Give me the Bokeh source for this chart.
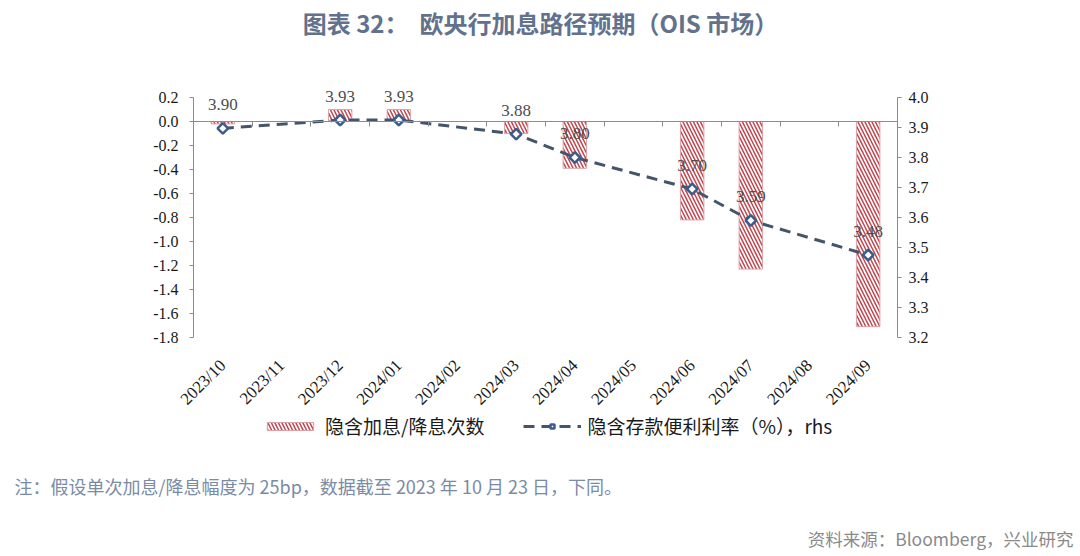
import math
from bokeh.plotting import figure
from bokeh.layouts import column
from bokeh.models import (Range1d, LinearAxis, FixedTicker, NumeralTickFormatter,
                          CustomJSTickFormatter, LabelSet, Label, Legend, LegendItem,
                          ColumnDataSource)
from bokeh.core.properties import value
from bokeh.embed import file_html
from bokeh.resources import INLINE

# ---------------- data ----------------
months = ["2023/10", "2023/11", "2023/12", "2024/01", "2024/02", "2024/03",
          "2024/04", "2024/05", "2024/06", "2024/07", "2024/08", "2024/09"]
meeting_months = ["2023/10", "2023/12", "2024/01", "2024/03",
                  "2024/04", "2024/06", "2024/07", "2024/09"]
implied_moves = [-0.02, 0.10, 0.10, -0.10, -0.39, -0.82, -1.23, -1.71]
implied_rate = [3.897, 3.925, 3.925, 3.878, 3.800, 3.695, 3.590, 3.475]
rate_labels = ["3.90", "3.93", "3.93", "3.88", "3.80", "3.70", "3.59", "3.48"]
left_ticks = [0.2, 0.0, -0.2, -0.4, -0.6, -0.8, -1.0, -1.2, -1.4, -1.6, -1.8]
right_ticks = [4.0, 3.9, 3.8, 3.7, 3.6, 3.5, 3.4, 3.3, 3.2]
left_bounds = (-1.8, 0.2)
right_bounds = (3.2, 4.0)

title_text = "图表 32：\u00a0\u00a0欧央行加息路径预期（OIS 市场）"
note_text = "注：假设单次加息/降息幅度为 25bp，数据截至 2023 年 10 月 23 日，下同。"
source_text = "资料来源：Bloomberg，兴业研究"
legend_bar = "隐含加息/降息次数"
legend_line = "隐含存款便利利率（%），rhs"

# ---------------- layout constants (pixels) ----------------
W = 1080
HA, HB = 460, 96
FR_L, FR_R = 50, 1030            # drawing frame
AX_L, AX_R = 193, 897            # where the value axes sit
F_TOP = 6
AX_TOP, AX_BOT = 97, 337          # vertical extent of the value axes
SERIF = "Liberation Serif"
CJK = "Noto Sans CJK SC"
AXIS_GRAY = "#8c8c8c"

n = len(months)
px_per_cat = (AX_R - AX_L) / n
x_range = Range1d(-(AX_L - FR_L) / px_per_cat, n + (FR_R - AX_R) / px_per_cat)


def extended(lo, hi):
    per = (AX_BOT - AX_TOP) / (hi - lo)
    return Range1d(lo - (HA - AX_BOT) / per, hi + (AX_TOP - F_TOP) / per)


meeting_x = [months.index(m) + 0.5 for m in meeting_months]
centers = [i + 0.5 for i in range(n)]
boundaries = list(range(n + 1))

src = ColumnDataSource(dict(x=meeting_x, move=implied_moves, rate=implied_rate,
                            lab=rate_labels))
msrc = ColumnDataSource(dict(x=centers, y=[left_bounds[0]] * n, m=months))

p = figure(width=W, height=HA, output_backend="svg", toolbar_location=None,
           x_range=x_range, y_range=extended(*left_bounds),
           x_axis_location=None, y_axis_location=None,
           min_border_left=FR_L, min_border_right=W - FR_R,
           min_border_top=F_TOP, min_border_bottom=0)
p.frame_align = False
p.outline_line_color = None
p.background_fill_color = "white"
p.border_fill_color = "white"
p.xgrid.visible = False
p.ygrid.visible = False
p.extra_y_ranges = {"rhs": extended(*right_bounds)}

# zero line with category separators
za = LinearAxis(fixed_location=0, bounds=(0, n), ticker=FixedTicker(ticks=boundaries),
                formatter=CustomJSTickFormatter(code="return '';"))
za.axis_line_color = AXIS_GRAY
za.major_tick_line_color = AXIS_GRAY
za.major_tick_in = 5
za.major_tick_out = 0
za.minor_tick_line_color = None
za.major_label_text_font_size = "0px"
za.major_label_standoff = 0
p.add_layout(za, "above")


def style_value_axis(ax, standoff):
    ax.axis_line_color = AXIS_GRAY
    ax.major_tick_line_color = AXIS_GRAY
    ax.major_tick_in = 0
    ax.major_tick_out = 4
    ax.minor_tick_line_color = None
    ax.major_label_standoff = standoff
    ax.major_label_text_font = SERIF
    ax.major_label_text_font_size = "16px"
    ax.major_label_text_color = "#1a1a1a"


# left axis (at the first category edge)
ya = LinearAxis(fixed_location=0, bounds=left_bounds,
                ticker=FixedTicker(ticks=left_ticks),
                formatter=NumeralTickFormatter(format="0.0"))
style_value_axis(ya, 11)
p.add_layout(ya, "left")

# right axis (at the last category edge)
ra = LinearAxis(fixed_location=n, y_range_name="rhs", bounds=right_bounds,
                ticker=FixedTicker(ticks=right_ticks),
                formatter=NumeralTickFormatter(format="0.0"))
style_value_axis(ra, 7)
p.add_layout(ra, "right")

# month labels (category axis text)
p.add_layout(LabelSet(x="x", y="y", text="m", source=msrc, angle=math.pi / 4,
                      y_offset=-25, text_align="right", text_baseline="middle",
                      text_font=value(SERIF), text_font_size="17px",
                      text_color="#1a1a1a"))

# bars
bars = p.vbar(x="x", top="move", bottom=0, width=0.4, source=src,
              fill_color="white", line_color="#dba3a7", line_width=1,
              hatch_pattern="left_diagonal_line", hatch_color="#c0474f",
              hatch_weight=1.5, hatch_scale=7)

# rate line + markers
line_r = p.line(x="x", y="rate", source=src, y_range_name="rhs",
                line_color="#44546a", line_width=3, line_dash="11 7")
mark_r = p.scatter(x="x", y="rate", source=src, y_range_name="rhs",
                   marker="square", angle=math.pi / 4, size=7.5,
                   fill_color="white", line_color="#3b5d8c", line_width=2.5)

p.add_layout(LabelSet(x="x", y="rate", text="lab", source=src, y_range_name="rhs",
                      y_offset=24, text_align="center", text_baseline="middle",
                      text_font=value(SERIF), text_font_size="17px",
                      text_color="#4d4d4d"))

legend = Legend(items=[LegendItem(label=legend_bar, renderers=[bars]),
                       LegendItem(label=legend_line, renderers=[line_r, mark_r])],
                orientation="horizontal", location=(211, 21),
                glyph_width=58, glyph_height=10, spacing=39,
                label_text_font=CJK, label_text_font_size="19px",
                label_text_color="#1a1a1a", border_line_color=None,
                background_fill_alpha=0, padding=4, margin=0, label_standoff=6)
p.add_layout(legend, "center")

p.add_layout(Label(x=540, y=22, x_units="canvas", y_units="canvas", text=title_text,
                   text_align="center", text_baseline="middle",
                   text_font=CJK, text_font_size="24px", text_font_style="bold",
                   text_color="#62728c"))

# ---------------- footer ----------------
q = figure(width=W, height=HB, output_backend="svg", toolbar_location=None,
           x_range=Range1d(0, W), y_range=Range1d(0, HB),
           x_axis_location=None, y_axis_location=None, min_border=0)
q.frame_align = False
q.outline_line_color = None
q.xgrid.visible = False
q.ygrid.visible = False
q.add_layout(Label(x=14, y=25, x_units="canvas", y_units="canvas", text=note_text,
                   text_align="left", text_baseline="middle",
                   text_font=CJK, text_font_size="18px", text_color="#7a8ba6"))
q.add_layout(Label(x=1073, y=78, x_units="canvas", y_units="canvas", text=source_text,
                   text_align="right", text_baseline="middle",
                   text_font=CJK, text_font_size="17.5px", text_color="#8a8a8a"))

open("out.html", "w").write(file_html(column(p, q), INLINE))
